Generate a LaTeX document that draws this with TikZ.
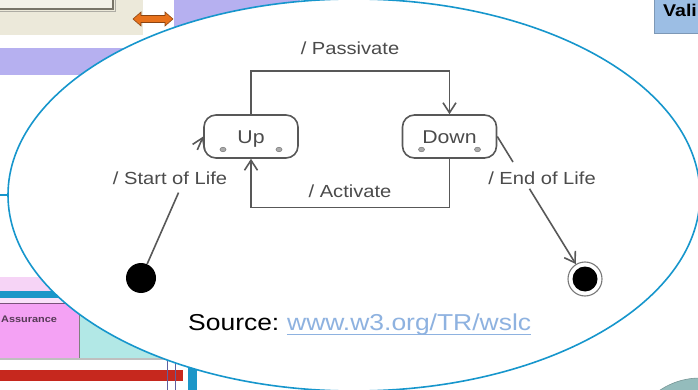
\documentclass[tikz,border=0pt]{standalone}
\usepackage{fontspec}
\setmainfont{Liberation Sans}
\newfontfamily\wide[FakeStretch=1.15]{Liberation Sans}
\usetikzlibrary{arrows.meta}

\definecolor{rim}{RGB}{22,150,204}
\definecolor{linegray}{RGB}{88,88,88}
\definecolor{labelgray}{RGB}{75,75,75}
\definecolor{linkblue}{RGB}{142,178,224}
\definecolor{beige}{RGB}{236,233,218}
\definecolor{beigein}{RGB}{243,241,232}
\definecolor{framegray}{RGB}{120,116,104}
\definecolor{lav}{RGB}{182,176,240}
\definecolor{orng}{RGB}{232,114,28}
\definecolor{valiblue}{RGB}{156,190,228}
\definecolor{pinklt}{RGB}{246,212,246}
\definecolor{pinkbox}{RGB}{244,162,244}
\definecolor{cyanbox}{RGB}{178,232,230}
\definecolor{barblue}{RGB}{28,150,200}
\definecolor{barred}{RGB}{198,40,30}
\definecolor{tealdisc}{RGB}{148,188,188}
\definecolor{dotgray}{RGB}{170,170,170}

\begin{document}
\begin{tikzpicture}[x=1pt,y=-1pt,
  statebox/.style={draw=linegray, line width=1.6pt, rounded corners=12pt,
    minimum width=94pt, minimum height=43pt, inner sep=0pt, fill=white,
    text=labelgray, text height=13.3pt, text depth=0pt,
    font=\wide\fontsize{18.5}{20}\selectfont},
  lbl/.style={text=labelgray, font=\wide\fontsize{17.5}{20}\selectfont,
    inner sep=0pt, anchor=base},
  conn/.style={draw=linegray, line width=1.6pt},
  tip/.style={-{Straight Barb[length=10pt,width=13pt]}},
  dotmark/.style={fill=dotgray, draw=linegray!80, line width=0.5pt},
  ]
\useasboundingbox (0,0) rectangle (698,390);
\clip (0,0) rectangle (698,390);

% ---- surrounding slide fragments ----
% top left: beige panel with framed box
\fill[beige] (0,0) rectangle (143,35);
\filldraw[fill=beigein, draw=framegray, line width=1.2pt] (-5,-5) rectangle (113,9);
\draw[framegray!60, line width=0.6pt] (-5,11.5) -- (115.5,11.5) -- (115.5,-5);
% orange double arrow
\filldraw[fill=orng, draw=orng!60!black, line width=0.6pt]
  (133,19) -- (141,12) -- (141,15.5) -- (165,15.5) -- (165,12) -- (173,19)
  -- (165,26) -- (165,22.5) -- (141,22.5) -- (141,26) -- cycle;
% lavender bands
\fill[lav] (174,0) rectangle (300,28);
\fill[lav] (0,48) rectangle (150,75);
% top right: blue heading box
\filldraw[fill=valiblue, draw=valiblue!80!black, line width=0.6pt] (654,-5) rectangle (705,33);
\node[anchor=base west, inner sep=0pt, font=\wide\bfseries\fontsize{17}{19}\selectfont]
  (vali) at (663,17) {Vali};
% bottom left: coloured rows
\fill[pinklt] (0,277) rectangle (120,291);
\fill[barblue] (0,291) rectangle (120,298);
\fill[pinklt!70] (0,298) rectangle (120,303);
\filldraw[fill=pinkbox, draw=pinkbox!50!black, line width=0.6pt] (-2,303) rectangle (79,358);
\filldraw[fill=cyanbox, draw=gray, line width=0.6pt] (79,303) rectangle (175,358);
\node[anchor=base west, inner sep=0pt, text=pinkbox!35!black,
  font=\wide\bfseries\fontsize{9.5}{11}\selectfont] (assur) at (1,322) {Assurance};
\fill[gray!50] (0,358) rectangle (175,360);
\fill[barred] (0,370) rectangle (183,381);
\draw[blue!25!gray, line width=0.8pt] (167,358) -- (167,392);
\draw[blue!25!gray, line width=0.8pt] (175,358) -- (175,392);
\fill[barblue] (188,366) rectangle (197,392);
% bottom right: teal disc
\filldraw[fill=tealdisc, draw=tealdisc!80!black, line width=0.6pt] (700,450) circle (72);

% ---- callout ellipse ----
\filldraw[fill=white, draw=rim, line width=1.6pt] (354,195) ellipse [x radius=346, y radius=196];
\draw[rim, line width=1.6pt] (-2,195) -- (8,195);

% ---- state machine ----
\node[statebox] (up) at (251,136.5) {Up};
\node[statebox] (down) at (449.5,136.5) {Down};
\foreach \s in {up,down}{
  \filldraw[dotmark] ([shift={(-28pt,-13pt)}]\s.center) ellipse [x radius=3, y radius=2.3];
  \filldraw[dotmark] ([shift={(28pt,-13pt)}]\s.center) ellipse [x radius=3, y radius=2.3];
}

\node[circle, fill=black, minimum size=30pt, inner sep=0pt] (init) at (141,278) {};
\node[circle, draw=linegray!80, line width=1.1pt, minimum size=34pt, inner sep=0pt] (fin) at (585,279) {};
\fill[black] (fin.center) circle (12.5);

% transitions
\draw[conn,tip] (up.north) -- ++(0,-43) -| (down.north);
\draw[conn,tip] (down.south) -- ++(0,48.5) -| (up.south);

\path (init) -- (up.west) coordinate[pos=0.56] (startgapA) coordinate[pos=0.895] (startgapB);
\draw[conn] (init) -- (startgapA);
\draw[conn,tip] (startgapB) -- (up.west);

\path (down.east) -- (fin) coordinate[pos=0.2] (endgapA) coordinate[pos=0.41] (endgapB);
\draw[conn] (down.east) -- (endgapA);
\draw[conn,tip] (endgapB) -- (fin);

% transition labels
\node[lbl] (lpass) at (350,55) {/ Passivate};
\node[lbl] (lact) at (350,197) {/ Activate};
\node[lbl] (lstart) at (170,185) {/ Start of Life};
\node[lbl] (lend) at (542,185) {/ End of Life};

% source line
\node[anchor=base west, inner sep=0pt, font=\wide\fontsize{23}{26}\selectfont]
  (src) at (188,330) {Source:};
\node[anchor=base west, inner sep=0pt, text=linkblue, font=\wide\fontsize{23}{26}\selectfont]
  (link) at ([xshift=7.4pt]src.base east) {www.w3.org/TR/wslc};
\draw[linkblue, line width=1pt] ([yshift=-4pt]link.base west) -- ([yshift=-4pt]link.base east);
\end{tikzpicture}
\end{document}
